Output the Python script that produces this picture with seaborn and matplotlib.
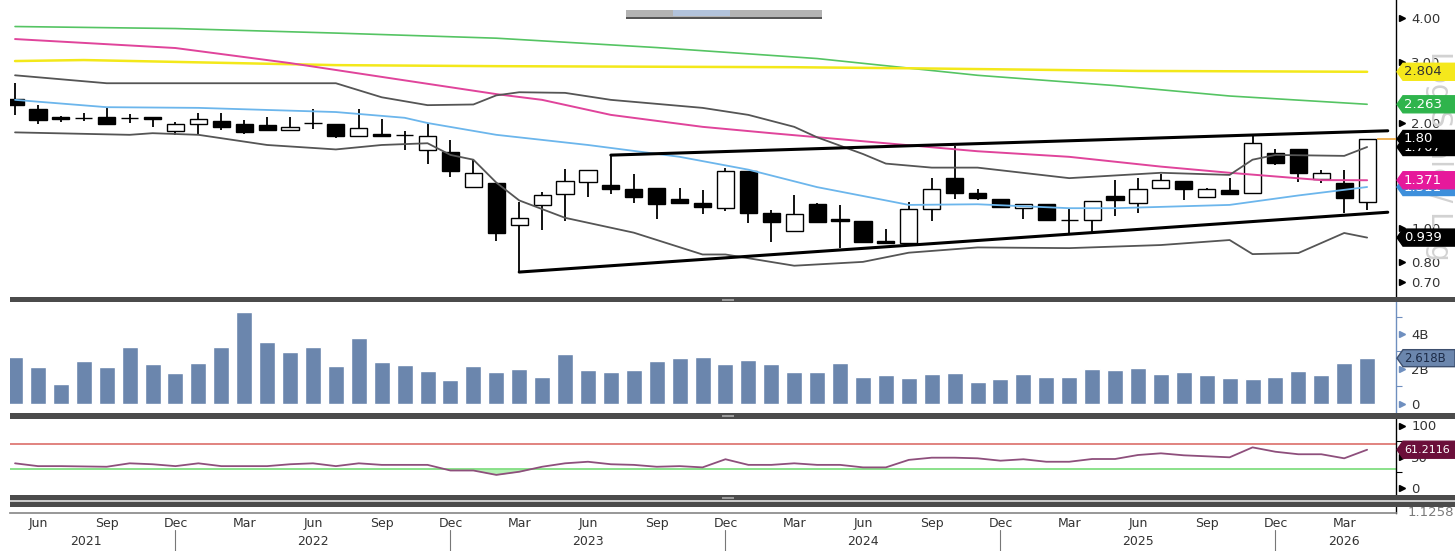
import matplotlib
matplotlib.use("Agg")
import matplotlib.pyplot as plt
import matplotlib.transforms as mtransforms
from matplotlib.patches import Polygon, Rectangle
from matplotlib.ticker import NullLocator
import numpy as np
import pandas as pd
import seaborn as sns

W, H = 1455, 551

# monthly bars, May 2021 .. Apr 2026
months = pd.date_range("2021-05-01", periods=60, freq="MS")

opens = [2.34, 2.19, 2.08, 2.07, 2.08, 2.07, 2.08, 1.90,
         1.99, 2.02, 1.99, 1.97, 1.91, 2.00, 1.99, 1.83, 1.86, 1.85, 1.67, 1.65,
         1.31, 1.35, 1.02, 1.164, 1.251, 1.354, 1.328, 1.293, 1.302, 1.21, 1.18, 1.141,
         1.457, 1.104, 0.98, 1.171, 1.06, 1.047, 0.918, 0.905, 1.134, 1.391, 1.26, 1.211,
         1.141, 1.171, 1.054, 1.054, 1.235, 1.179, 1.302, 1.363, 1.227, 1.284, 1.26, 1.64,
         1.685, 1.381, 1.345, 1.187]
highs = [2.60, 2.25, 2.09, 2.14, 2.22, 2.12, 2.08, 2.01,
         2.14, 2.14, 2.04, 2.08, 2.08, 2.19, 1.99, 2.19, 2.05, 1.90, 2.00, 1.79,
         1.58, 1.35, 1.187, 1.268, 1.476, 1.466, 1.618, 1.428, 1.302, 1.30, 1.284, 1.486,
         1.46, 1.126, 1.243, 1.18, 1.164, 1.05, 0.993, 1.187, 1.391, 1.718, 1.29, 1.215,
         1.171, 1.171, 1.141, 1.195, 1.372, 1.391, 1.428, 1.363, 1.30, 1.391, 1.85, 1.685,
         1.69, 1.466, 1.466, 1.80]
lows = [2.11, 1.99, 2.01, 2.03, 1.99, 2.00, 1.95, 1.85,
        1.85, 1.91, 1.86, 1.91, 1.91, 1.92, 1.81, 1.83, 1.84, 1.67, 1.53, 1.40,
        1.30, 0.918, 0.748, 0.987, 1.047, 1.227, 1.251, 1.179, 1.061, 1.18, 1.097, 1.119,
        1.033, 0.912, 0.98, 1.04, 0.876, 0.905, 0.90, 0.894, 1.047, 1.211, 1.20, 1.149,
        1.061, 1.054, 0.967, 0.967, 1.082, 1.104, 1.30, 1.202, 1.227, 1.243, 1.26, 1.515,
        1.354, 1.345, 1.104, 1.126]
closes = [2.25, 2.04, 2.05, 2.065, 1.99, 2.07, 2.05, 1.99,
          2.05, 1.95, 1.88, 1.91, 1.95, 2.00, 1.84, 1.93, 1.84, 1.85, 1.83, 1.46,
          1.44, 0.97, 1.068, 1.243, 1.363, 1.466, 1.293, 1.227, 1.171, 1.18, 1.15, 1.457,
          1.104, 1.04, 1.097, 1.04, 1.045, 0.912, 0.905, 1.134, 1.293, 1.26, 1.22, 1.149,
          1.171, 1.054, 1.056, 1.195, 1.202, 1.293, 1.372, 1.293, 1.293, 1.251, 1.752, 1.536,
          1.437, 1.437, 1.219, 1.80]

volume_bn = [2.69, 2.11, 1.14, 2.46, 2.11, 3.26, 2.29, 1.77,
             2.34, 3.26, 5.26, 3.54, 2.97, 3.26, 2.17, 3.77, 2.40, 2.23, 1.89, 1.37,
             2.17, 1.83, 2.00, 1.54, 2.86, 1.94, 1.83, 1.94, 2.46, 2.63, 2.69, 2.29,
             2.51, 2.29, 1.83, 1.83, 2.34, 1.54, 1.66, 1.49, 1.71, 1.77, 1.26, 1.43,
             1.71, 1.54, 1.54, 2.00, 1.94, 2.06, 1.71, 1.83, 1.66, 1.49, 1.43, 1.54,
             1.89, 1.66, 2.34, 2.618]

rsi = [39.5, 35, 35, 34.5, 34, 39.5, 38, 35,
       39.5, 35, 35, 35, 38, 39.5, 35, 39.5, 37, 37, 37, 28,
       28, 21, 26, 34, 39.5, 42, 38, 37, 34, 35, 33, 46,
       37, 37, 39.5, 37, 37, 33, 33, 45, 48.5, 48.5, 47.5, 43.7,
       46, 42, 42, 46.4, 46.4, 52.8, 55.5, 52.3, 50.7, 49.1, 65, 58,
       54, 54, 47.5, 61.2116]

# moving averages / bands read at selected months (month index, value)
ma_green_x = [0, 7, 14, 21, 28, 35, 42, 48, 53, 59]
ma_green = [3.78, 3.73, 3.62, 3.50, 3.29, 3.06, 2.74, 2.56, 2.39, 2.263]
ma_yellow_x = [0, 3, 14, 21, 34, 39, 49, 59]
ma_yellow = [3.01, 3.03, 2.93, 2.91, 2.89, 2.87, 2.82, 2.804]
ma_pink_x = [0, 7, 12, 17, 21, 23, 26, 30, 33, 38, 42, 46, 50, 53, 57, 59]
ma_pink = [3.48, 3.28, 2.97, 2.65, 2.42, 2.33, 2.11, 1.95, 1.87, 1.75, 1.66, 1.60, 1.50, 1.44, 1.372, 1.371]
ma_blue_x = [0, 4, 8, 14, 17, 18, 21, 25, 29, 32, 35, 38, 39, 42, 46, 48, 53, 56, 59]
ma_blue = [2.33, 2.22, 2.21, 2.15, 2.07, 2.00, 1.85, 1.73, 1.60, 1.47, 1.31, 1.20, 1.165, 1.17, 1.14, 1.14, 1.165, 1.24, 1.311]
bb_up_x = [0, 4, 14, 16, 18, 20, 21, 22, 24, 26, 30, 32, 34, 35, 37, 38, 40, 42, 46, 50, 53, 54, 55, 58, 59]
bb_up = [2.74, 2.60, 2.60, 2.37, 2.25, 2.26, 2.40, 2.45, 2.44, 2.33, 2.21, 2.11, 1.95, 1.82, 1.63, 1.53,
         1.49, 1.49, 1.39, 1.44, 1.42, 1.57, 1.62, 1.61, 1.707]
bb_lo_x = [0, 5, 6, 8, 11, 14, 16, 18, 19, 20, 21, 22, 24, 27, 30, 31, 34, 37, 39, 42, 46, 50, 53, 54, 56, 58, 59]
bb_lo = [1.88, 1.85, 1.87, 1.85, 1.73, 1.68, 1.73, 1.75, 1.62, 1.57, 1.35, 1.20, 1.07, 0.97, 0.84, 0.84,
         0.78, 0.80, 0.85, 0.88, 0.876, 0.894, 0.924, 0.842, 0.848, 0.968, 0.939]

# hand drawn triangle
tri_up_x, tri_up = [26, 59.9], [1.618, 1.90]
tri_lo_x, tri_lo = [22, 59.9], [0.748, 1.11]

last_price = 1.80
price_ticks = [0.7, 0.8, 1.0, 2.0, 3.0, 4.0]
price_ticklabels = ["0.70", "0.80", "1.00", "2.00", "3.00", "4.00"]

sns.set_theme(style="white")
plt.rcParams["font.family"] = ["DejaVu Sans"]

fig = plt.figure(figsize=(W / 100, H / 100), dpi=100, facecolor="white")


def box(l, t, r, b):
    return [l / W, 1 - b / H, (r - l) / W, (b - t) / H]


ax_p = fig.add_axes(box(10, 0, 1396, 296))
ax_v = fig.add_axes(box(10, 302, 1396, 412))
ax_r = fig.add_axes(box(10, 419, 1396, 494))
ax_x = fig.add_axes(box(10, 507, 1396, 513))

idx = np.arange(len(months))
XLIM = (-0.22, 60.26)
o, h, l, c = map(np.array, (opens, highs, lows, closes))

for ax in (ax_p, ax_v, ax_r, ax_x):
    ax.set_facecolor("white")
    for s in ("left", "top", "bottom"):
        ax.spines[s].set_visible(False)
    ax.spines["right"].set_color("black")
    ax.spines["right"].set_linewidth(1)
    ax.yaxis.tick_right()

# ---------- price panel ----------
ax_p.set_yscale("log")
ax_p.vlines(idx, l, h, color="black", lw=1.3, zorder=2)
up = c >= o
body_lo = np.minimum(o, c)
body_h = np.maximum(np.abs(c - o), 0.002)
ax_p.bar(idx, body_h, bottom=body_lo, width=0.75,
         color=np.where(up, "white", "black"), edgecolor="black", linewidth=1, zorder=3)

sns.lineplot(x=ma_green_x, y=ma_green, ax=ax_p, color="#55c463", lw=1.2, zorder=4)
sns.lineplot(x=ma_yellow_x, y=ma_yellow, ax=ax_p, color="#f3e81a", lw=1.8, zorder=4)
sns.lineplot(x=ma_pink_x, y=ma_pink, ax=ax_p, color="#e0449b", lw=1.4, zorder=4)
sns.lineplot(x=ma_blue_x, y=ma_blue, ax=ax_p, color="#6cb6ec", lw=1.3, zorder=4)
sns.lineplot(x=bb_up_x, y=bb_up, ax=ax_p, color="#555555", lw=1.3, zorder=4)
sns.lineplot(x=bb_lo_x, y=bb_lo, ax=ax_p, color="#555555", lw=1.3, zorder=4)
ax_p.plot(tri_up_x, tri_up, color="black", lw=2.2, zorder=5)
ax_p.plot(tri_lo_x, tri_lo, color="black", lw=2.2, zorder=5)
ax_p.hlines(last_price, 59.45, XLIM[1], color="#eba43a", lw=1.2, zorder=5)

ax_p.set_xlim(*XLIM)
ax_p.set_ylim(0.6387, 4.503)
ax_p.set_xticks([])
ax_p.set_yticks(price_ticks)
ax_p.set_yticklabels(price_ticklabels)
ax_p.yaxis.set_minor_locator(NullLocator())
ax_p.tick_params(axis="y", length=0, pad=11, labelsize=9.5, labelcolor="#333333")
ax_p.set_xlabel("")
ax_p.set_ylabel("")
for v in price_ticks:
    ax_p.plot(1.004, v, marker=">", ms=5, color="black", transform=ax_p.get_yaxis_transform(), clip_on=False)

# ---------- volume panel ----------
vol_color = "#6b86ad"
sns.barplot(x=idx, y=volume_bn, ax=ax_v, color=vol_color, width=0.7, saturation=1)
ax_v.set_xlim(*XLIM)
ax_v.set_ylim(-0.46, 5.83)
ax_v.set_xticks([])
ax_v.set_xlabel("")
ax_v.set_ylabel("")
ax_v.set_yticks([0, 2, 4])
ax_v.set_yticklabels(["0", "2B", "4B"])
ax_v.set_yticks([1, 3, 5], minor=True)
ax_v.tick_params(axis="y", which="major", length=0, pad=11, labelsize=9.5, labelcolor="#333333")
ax_v.tick_params(axis="y", which="minor", length=4, width=0.8, color="#6f8fbf", direction="out")
ax_v.spines["right"].set_color("#6f8fbf")
for v in [0, 2, 4]:
    ax_v.plot(1.004, v, marker=">", ms=5, color="#6f8fbf", transform=ax_v.get_yaxis_transform(), clip_on=False)

# ---------- RSI panel ----------
rsi_arr = np.array(rsi)
ax_r.axhline(70, color="#d9625c", lw=1.1)
ax_r.axhline(30, color="#6bd96b", lw=1.1)
ax_r.fill_between(idx, rsi_arr, 30, where=rsi_arr < 30, interpolate=True, color="#b5f2b5", lw=0)
sns.lineplot(x=idx, y=rsi_arr, ax=ax_r, color="#8e4f7c", lw=1.3)
ax_r.set_xlim(*XLIM)
ax_r.set_ylim(-9.6, 110.4)
ax_r.set_xticks([])
ax_r.set_xlabel("")
ax_r.set_ylabel("")
ax_r.set_yticks([0, 50, 100])
ax_r.set_yticklabels(["0", "50", "100"])
ax_r.set_yticks([25, 75], minor=True)
ax_r.tick_params(axis="y", which="major", length=0, pad=11, labelsize=9.5, labelcolor="#333333")
ax_r.tick_params(axis="y", which="minor", length=4, width=0.8, color="black", direction="out")
for v in [0, 50, 100]:
    ax_r.plot(1.004, v, marker=">", ms=5, color="black", transform=ax_r.get_yaxis_transform(), clip_on=False)

# ---------- date axis ----------
ax_x.set_xlim(*XLIM)
ax_x.set_ylim(0, 1)
ax_x.set_yticks([])
ax_x.spines["bottom"].set_visible(True)
ax_x.spines["bottom"].set_color("#8a8a8a")
ax_x.set_xticks(idx)
ax_x.set_xticklabels([m.strftime("%b") if m.month in (3, 6, 9, 12) else "" for m in months])
ax_x.tick_params(axis="x", length=4, width=0.8, direction="in", color="#777777",
                 pad=3, labelsize=9, labelcolor="#333333")
xt = ax_x.get_xaxis_transform()
for i, m in enumerate(months):
    if m.month == 12:
        ax_x.plot([i, i], [-2.9, -6.5], color="#777777", lw=0.8, transform=xt, clip_on=False)
year_pos = {"2021": 3.1, "2022": 13, "2023": 25, "2024": 37, "2025": 49, "2026": 58}
for yr, p in year_pos.items():
    ax_x.text(p, -4.7, yr, ha="center", va="center", fontsize=9, color="#333333", transform=xt)

# ---------- panel separators / ui bits ----------
def band(t, b, color, z=5):
    fig.add_artist(Rectangle((10 / W, 1 - b / H), (W - 10) / W, (b - t) / H,
                             transform=fig.transFigure, facecolor=color, edgecolor="none", zorder=z))


band(297, 302, "#4b4b4b")
band(412.5, 418.5, "#4b4b4b")
band(494.5, 500, "#4b4b4b")
band(501.5, 507, "#4b4b4b")
band(500, 501.5, "#c9c9c9")
for t in (297, 412.5, 494.5):
    fig.add_artist(Rectangle((722 / W, 1 - (t + 4) / H), 12 / W, 2 / H, transform=fig.transFigure,
                             facecolor="#9a9a9a", edgecolor="none", zorder=6))

fig.add_artist(Rectangle((626 / W, 1 - 18 / H), 196 / W, 8 / H, transform=fig.transFigure,
                         facecolor="#b3b3b3", edgecolor="none", zorder=5))
fig.add_artist(Rectangle((673 / W, 1 - 16 / H), 57 / W, 6 / H, transform=fig.transFigure,
                         facecolor="#b2c3dc", edgecolor="none", zorder=6))
fig.add_artist(Rectangle((626 / W, 1 - 19 / H), 196 / W, 1.6 / H, transform=fig.transFigure,
                         facecolor="#555555", edgecolor="none", zorder=6))

fig.text(1439 / W, 1 - 156 / H, "Log Scale / Log", rotation=-90, fontsize=20, color="#d2d2d2",
         ha="center", va="center", zorder=0.5)

# value tags on the right
ident = mtransforms.IdentityTransform()


def tag(ax, val, text, fc, tc, ec=None, z=7, fs=9.5):
    y = ax.transData.transform((0, val))[1]
    x0 = ax.transAxes.transform((1, 0))[0] + 1
    hh = 8.5
    pts = [(x0, y), (x0 + 6, y + hh), (x0 + 58, y + hh), (x0 + 58, y - hh), (x0 + 6, y - hh)]
    fig.add_artist(Polygon(pts, closed=True, transform=ident, facecolor=fc,
                           edgecolor=ec if ec else fc, lw=1, zorder=z))
    fig.text((x0 + 7) / W, y / H, text, ha="left", va="center", fontsize=fs, color=tc, zorder=z + 0.5)


tag(ax_p, ma_yellow[-1], "2.804", "#f5e81c", "#333333")
tag(ax_p, ma_green[-1], "2.263", "#2fb44c", "white")
tag(ax_p, bb_up[-1], "1.707", "black", "white")
tag(ax_p, last_price, "1.80", "black", "white", z=8)
tag(ax_p, ma_blue[-1], "1.311", "#3d8fdb", "white")
tag(ax_p, ma_pink[-1], "1.371", "#e6199b", "white", z=8)
tag(ax_p, bb_lo[-1], "0.939", "black", "white")
tag(ax_v, volume_bn[-1], "2.618B", vol_color, "#1d2b47", ec="#3d4f6e", fs=8.5)
tag(ax_r, rsi[-1], "61.2116", "#6b0f3a", "white", fs=8)

fig.text(1408 / W, 1 - 513 / H, "1.1258", ha="left", va="center", fontsize=9.5, color="#7a7a7a", zorder=3)

fig.savefig("out.png", dpi=100, facecolor="white")
